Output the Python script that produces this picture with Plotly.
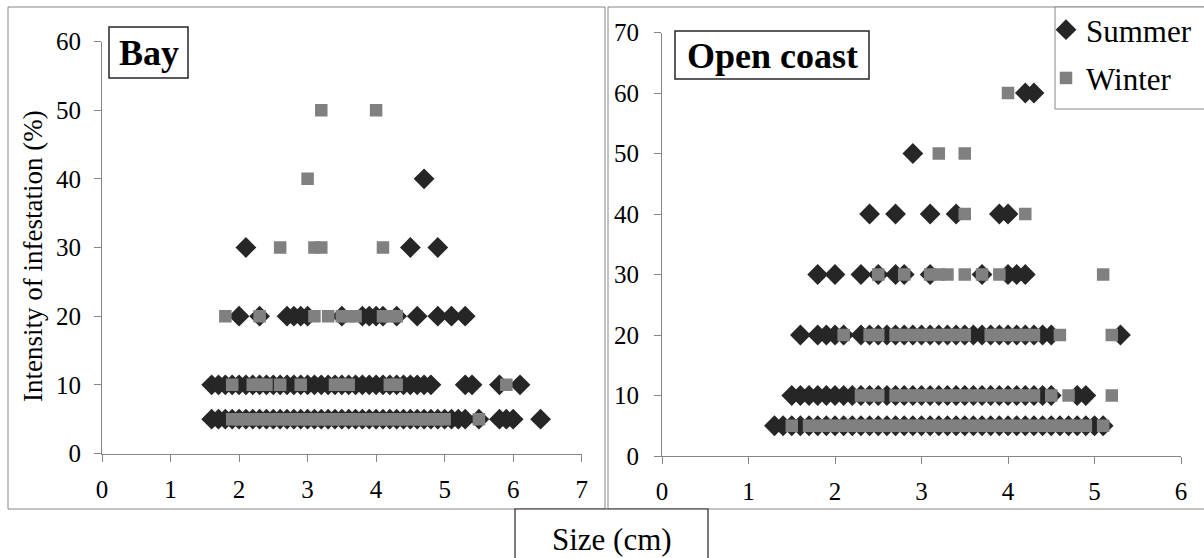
import plotly.graph_objects as go

# ---------------- data (size in cm, intensity in %) ----------------
# Bay - Summer
bay_summer_5 = [1.6, 1.7, 1.8, 1.9, 2.0, 2.1, 2.2, 2.3, 2.4, 2.5, 2.6, 2.7, 2.8, 2.9, 3.0, 3.1, 3.2, 3.3,
                3.4, 3.5, 3.6, 3.7, 3.8, 3.9, 4.0, 4.1, 4.2, 4.3, 4.4, 4.5, 4.6, 4.7, 4.8, 4.9, 5.0, 5.1,
                5.2, 5.3, 5.5, 5.8, 5.9, 6.0, 6.4]
bay_summer_10 = [1.6, 1.7, 1.8, 1.9, 2.0, 2.1, 2.2, 2.3, 2.4, 2.5, 2.6, 2.7, 2.8, 2.9, 3.0, 3.1, 3.2, 3.3,
                 3.4, 3.5, 3.6, 3.7, 3.8, 3.9, 4.0, 4.1, 4.2, 4.3, 4.4, 4.5, 4.6, 4.7, 4.8, 5.3, 5.4, 5.8, 6.1]
bay_summer_20 = [2.0, 2.3, 2.7, 2.8, 2.9, 3.0, 3.5, 3.8, 3.9, 4.0, 4.1, 4.3, 4.6, 4.9, 5.1, 5.3]
bay_summer_30 = [2.1, 4.5, 4.9]
bay_summer_40 = [4.7]

# Bay - Winter
bay_winter_5 = [1.9, 2.0, 2.1, 2.2, 2.3, 2.4, 2.5, 2.6, 2.7, 2.8, 2.9, 3.0, 3.1, 3.2, 3.3, 3.4, 3.5, 3.6,
                3.7, 3.8, 3.9, 4.0, 4.1, 4.2, 4.3, 4.4, 4.5, 4.6, 4.7, 4.8, 4.9, 5.0, 5.5]
bay_winter_10 = [1.9, 2.2, 2.3, 2.4, 2.6, 2.9, 3.4, 3.5, 3.6, 4.2, 4.3, 5.9]
bay_winter_20 = [1.8, 2.3, 3.1, 3.3, 3.5, 3.6, 3.7, 4.1, 4.2, 4.3]
bay_winter_30 = [2.6, 3.1, 3.2, 4.1]
bay_winter_40 = [3.0]
bay_winter_50 = [3.2, 4.0]

# Open coast - Summer
open_summer_5 = [1.3, 1.4, 1.5, 1.6, 1.7, 1.8, 1.9, 2.0, 2.1, 2.2, 2.3, 2.4, 2.5, 2.6, 2.7, 2.8, 2.9, 3.0,
                 3.1, 3.2, 3.3, 3.4, 3.5, 3.6, 3.7, 3.8, 3.9, 4.0, 4.1, 4.2, 4.3, 4.4, 4.5, 4.6, 4.7, 4.8,
                 4.9, 5.0, 5.1]
open_summer_10 = [1.5, 1.6, 1.7, 1.8, 1.9, 2.0, 2.1, 2.2, 2.3, 2.4, 2.5, 2.6, 2.7, 2.8, 2.9, 3.0, 3.1, 3.2,
                  3.3, 3.4, 3.5, 3.6, 3.7, 3.8, 3.9, 4.0, 4.1, 4.2, 4.3, 4.4, 4.5, 4.8, 4.9]
open_summer_20 = [1.6, 1.8, 1.9, 2.0, 2.1, 2.3, 2.4, 2.5, 2.6, 2.7, 2.8, 2.9, 3.0, 3.1, 3.2, 3.3, 3.4, 3.5,
                  3.6, 3.7, 3.8, 3.9, 4.0, 4.1, 4.2, 4.3, 4.4, 4.5, 5.3]
open_summer_30 = [1.8, 2.0, 2.3, 2.5, 2.7, 2.8, 3.1, 3.7, 4.0, 4.1, 4.2]
open_summer_40 = [2.4, 2.7, 3.1, 3.4, 3.9, 4.0]
open_summer_50 = [2.9]
open_summer_60 = [4.2, 4.3]

# Open coast - Winter
open_winter_5 = [1.5, 1.7, 1.8, 1.9, 2.0, 2.1, 2.2, 2.3, 2.4, 2.5, 2.6, 2.7, 2.8, 2.9, 3.0, 3.1, 3.2, 3.3,
                 3.4, 3.5, 3.6, 3.7, 3.8, 3.9, 4.0, 4.1, 4.2, 4.3, 4.4, 4.5, 4.6, 4.7, 4.8, 4.9, 5.1]
open_winter_10 = [2.3, 2.4, 2.5, 2.7, 2.8, 2.9, 3.0, 3.1, 3.2, 3.3, 3.4, 3.5, 3.6, 3.7, 3.8, 3.9, 4.0, 4.1,
                  4.2, 4.3, 4.5, 4.7, 5.2]
open_winter_20 = [2.1, 2.4, 2.5, 2.7, 2.8, 2.9, 3.0, 3.1, 3.2, 3.3, 3.4, 3.5, 3.8, 3.9, 4.0, 4.1, 4.2, 4.3,
                  4.6, 5.2]
open_winter_30 = [2.5, 2.8, 3.1, 3.2, 3.3, 3.5, 3.7, 3.9, 5.1]
open_winter_40 = [3.5, 4.2]
open_winter_50 = [3.2, 3.5]
open_winter_60 = [4.0]

bay_summer = {5: bay_summer_5, 10: bay_summer_10, 20: bay_summer_20, 30: bay_summer_30, 40: bay_summer_40}
bay_winter = {5: bay_winter_5, 10: bay_winter_10, 20: bay_winter_20, 30: bay_winter_30,
              40: bay_winter_40, 50: bay_winter_50}
open_summer = {5: open_summer_5, 10: open_summer_10, 20: open_summer_20, 30: open_summer_30,
               40: open_summer_40, 50: open_summer_50, 60: open_summer_60}
open_winter = {5: open_winter_5, 10: open_winter_10, 20: open_winter_20, 30: open_winter_30,
               40: open_winter_40, 50: open_winter_50, 60: open_winter_60}

bay_xticks = [0, 1, 2, 3, 4, 5, 6, 7]
bay_yticks = [0, 10, 20, 30, 40, 50, 60]
open_xticks = [0, 1, 2, 3, 4, 5, 6]
open_yticks = [0, 10, 20, 30, 40, 50, 60, 70]


def flatten(rows):
    xs, ys = [], []
    for yv, xlist in rows.items():
        xs.extend(xlist)
        ys.extend([yv] * len(xlist))
    return xs, ys


# ---------------- layout helpers ----------------
W, H = 1204, 558
FONT = "Liberation Serif"
AXIS_GREY = "#868686"
DARK = "#262626"
GREY = "#808080"


def px(v):
    return v / W


def py(v):
    return 1 - v / H


fig = go.Figure()

summer_marker = dict(symbol="diamond", size=16, color=DARK, line=dict(width=0))
winter_marker = dict(symbol="square", size=12.5, color=GREY, line=dict(width=0))

x, y = flatten(bay_summer)
fig.add_trace(go.Scatter(x=x, y=y, mode="markers", marker=summer_marker, name="Summer",
                         legendgroup="Summer", showlegend=False, xaxis="x", yaxis="y"))
x, y = flatten(bay_winter)
fig.add_trace(go.Scatter(x=x, y=y, mode="markers", marker=winter_marker, name="Winter",
                         legendgroup="Winter", showlegend=False, xaxis="x", yaxis="y"))
x, y = flatten(open_summer)
fig.add_trace(go.Scatter(x=x, y=y, mode="markers", marker=summer_marker, name="Summer",
                         legendgroup="Summer", showlegend=True, xaxis="x2", yaxis="y2"))
x, y = flatten(open_winter)
fig.add_trace(go.Scatter(x=x, y=y, mode="markers", marker=winter_marker, name="Winter",
                         legendgroup="Winter", showlegend=True, xaxis="x2", yaxis="y2"))

axis_common = dict(showline=True, linecolor=AXIS_GREY, linewidth=1, ticks="outside", ticklen=7,
                   tickcolor=AXIS_GREY, tickwidth=1, showgrid=False, zeroline=False, automargin=False,
                   tickfont=dict(family=FONT, size=25, color="#000000"), fixedrange=True)

fig.update_layout(
    template="none",
    width=W, height=H,
    margin=dict(l=0, r=0, t=0, b=0, pad=0, autoexpand=False),
    paper_bgcolor="white", plot_bgcolor="white",
    font=dict(family=FONT, color="#000000"),
    xaxis=dict(domain=[px(102), px(581.7)], range=[0, 7], tickvals=bay_xticks, anchor="y",
               ticklabelstandoff=6, **axis_common),
    yaxis=dict(domain=[py(453.5), py(41.5)], range=[0, 60], tickvals=bay_yticks, anchor="x",
               ticklabelstandoff=8, **axis_common),
    xaxis2=dict(domain=[px(662), px(1181)], range=[0, 6], tickvals=open_xticks, anchor="y2",
                ticklabelstandoff=6, **axis_common),
    yaxis2=dict(domain=[py(456), py(32.5)], range=[0, 70], tickvals=open_yticks, anchor="x2",
                ticklabelstandoff=10, **axis_common),
    legend=dict(x=px(1046), y=py(3), xanchor="left", yanchor="top",
                borderwidth=0, bgcolor="rgba(0,0,0,0)", tracegroupgap=5,
                font=dict(family=FONT, size=31, color="#000000"), itemwidth=30),
    showlegend=True,
)

shapes = [
    # panel frames
    dict(type="rect", xref="paper", yref="paper", x0=px(8), x1=px(605), y0=py(509), y1=py(7),
         line=dict(color=AXIS_GREY, width=1), layer="below"),
    dict(type="rect", xref="paper", yref="paper", x0=px(608), x1=px(1220), y0=py(509), y1=py(7),
         line=dict(color=AXIS_GREY, width=1), layer="below"),
    # legend frame
    dict(type="rect", xref="paper", yref="paper", x0=px(1055), x1=px(1220), y0=py(109), y1=py(7),
         line=dict(color=AXIS_GREY, width=1), fillcolor="white", layer="above"),
    # panel label boxes
    dict(type="rect", xref="paper", yref="paper", x0=px(109), x1=px(188), y0=py(78), y1=py(27),
         line=dict(color=DARK, width=1.5), fillcolor="white", layer="above"),
    dict(type="rect", xref="paper", yref="paper", x0=px(675), x1=px(869), y0=py(79), y1=py(31),
         line=dict(color=DARK, width=1.5), fillcolor="white", layer="above"),
    # x-axis title box
    dict(type="rect", xref="paper", yref="paper", x0=px(515), x1=px(708), y0=py(575), y1=py(509),
         line=dict(color=DARK, width=1.2), fillcolor="white", layer="above"),
]
fig.update_layout(shapes=shapes)

annotations = [
    dict(text="<b>Bay</b>", x=px(148.5), y=py(53), xref="paper", yref="paper",
         showarrow=False, xanchor="center", yanchor="middle",
         font=dict(family=FONT, size=36, color="#000000")),
    dict(text="<b>Open coast</b>", x=px(772), y=py(56), xref="paper", yref="paper",
         showarrow=False, xanchor="center", yanchor="middle",
         font=dict(family=FONT, size=36, color="#000000")),
    dict(text="Size (cm)", x=px(611.5), y=py(539), xref="paper", yref="paper",
         showarrow=False, xanchor="center", yanchor="middle",
         font=dict(family=FONT, size=31, color="#000000")),
    dict(text="Intensity of infestation (%)", x=px(33), y=py(256), xref="paper", yref="paper",
         showarrow=False, xanchor="center", yanchor="middle", textangle=-90,
         font=dict(family=FONT, size=27, color="#000000")),
]
fig.update_layout(annotations=annotations)

fig.write_html("out.html")
